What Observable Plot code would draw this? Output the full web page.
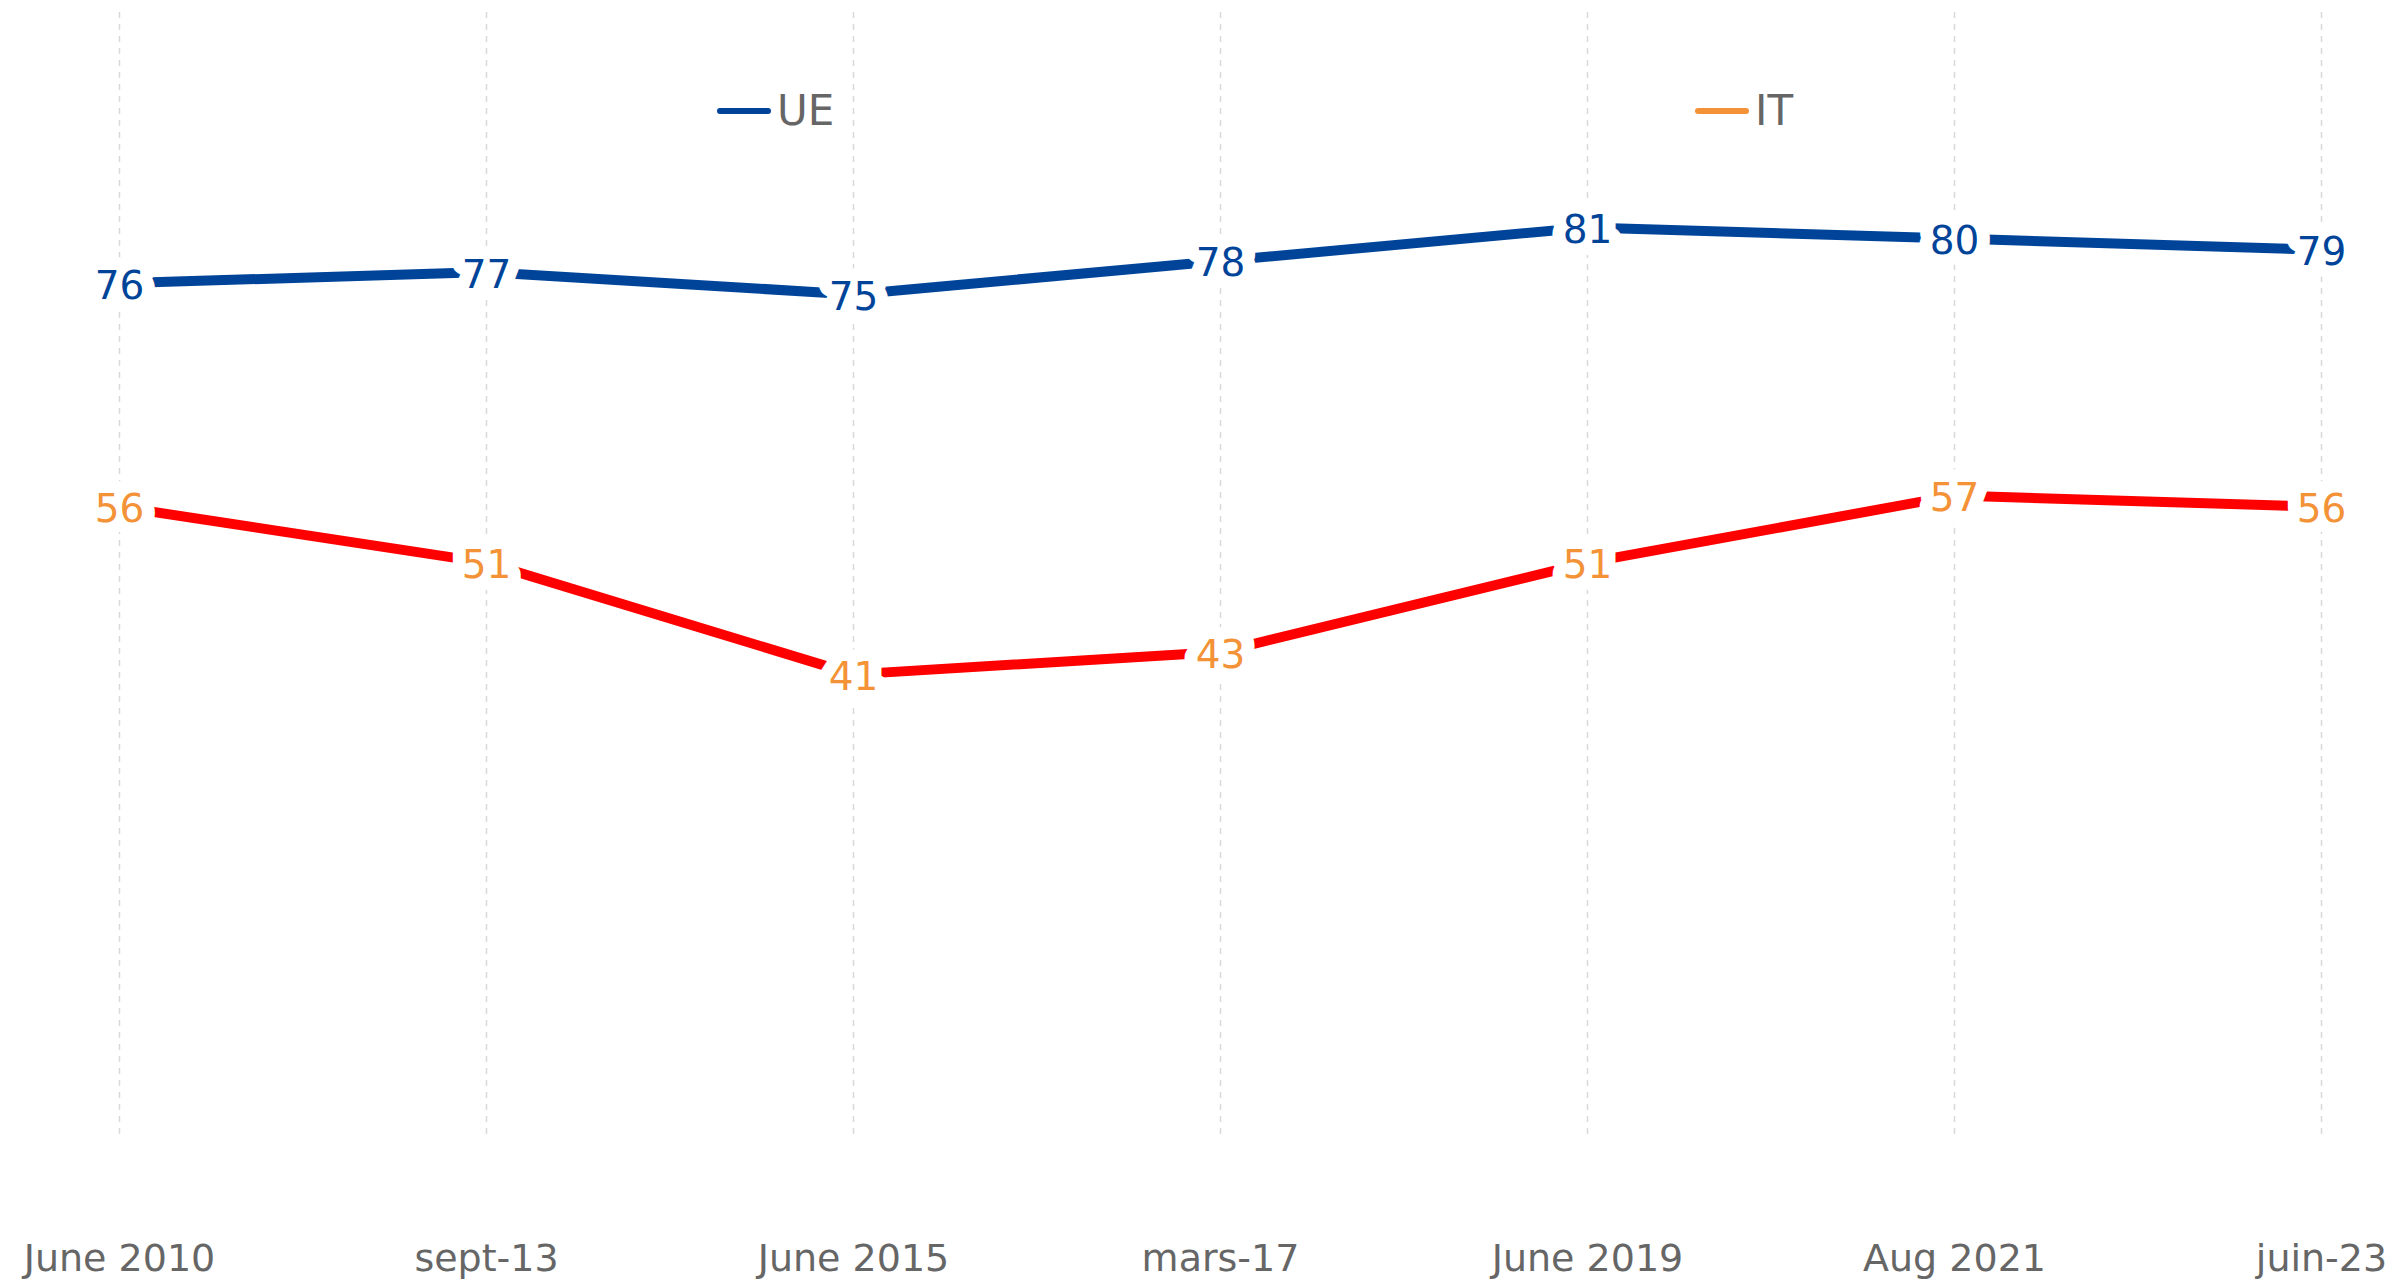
<!DOCTYPE html>
<html>
<head>
<meta charset="utf-8">
<script src="https://cdn.jsdelivr.net/npm/d3@7"></script>
<script src="https://cdn.jsdelivr.net/npm/@observablehq/plot@0.6"></script>
<style>
  html, body { margin: 0; padding: 0; background: #fff; }
  #wrap { position: relative; width: 2408px; height: 1280px; font-family: "DejaVu Sans", Verdana, sans-serif; }
  .leg { position: absolute; top: 86px; display: flex; align-items: center; font-size: 42px; color: #666; }
  .leg .sw { width: 54px; height: 6px; border-radius: 3px; margin-right: 6px; }
</style>
</head>
<body>
<div id="wrap"></div>
<script>
const categories = ["June 2010", "sept-13", "June 2015", "mars-17", "June 2019", "Aug 2021", "juin-23"];
const ueValues = [76, 77, 75, 78, 81, 80, 79];
const itValues = [56, 51, 41, 43, 51, 57, 56];
const seriesNames = ["UE", "IT"];
const lineColors = {UE: "#00449a", IT: "#ff0000"};
const labelColors = {UE: "#00449a", IT: "#f39237"};
const legendColors = {UE: "#00449a", IT: "#f39237"};

const data = [];
categories.forEach((c, i) => {
  data.push({date: c, series: "UE", value: ueValues[i]});
  data.push({date: c, series: "IT", value: itValues[i]});
});

const chart = Plot.plot({
  width: 2408,
  height: 1280,
  marginTop: 12,
  marginBottom: 140,
  marginLeft: 0,
  marginRight: 0,
  style: {fontFamily: "\"DejaVu Sans\", Verdana, sans-serif", color: "#666", background: "#fff"},
  x: {type: "point", domain: categories, range: [118, 2322], padding: 0, align: 0.5, label: null},
  y: {domain: [0, 100], range: [1132, 14.6], axis: null},
  marks: [
    Plot.gridX({stroke: "#d9d9d9", strokeOpacity: 1, strokeWidth: 1.5, strokeDasharray: "6,6"}),
    Plot.axisX({tickSize: 0, tickPadding: 104, fontSize: 38, fill: "#666", label: null}),
    ...seriesNames.map(s => Plot.line(data.filter(d => d.series === s), {
      x: "date", y: "value", stroke: lineColors[s], strokeWidth: 10, strokeLinecap: "butt"
    })),
    ...seriesNames.map(s => Plot.text(data.filter(d => d.series === s), {
      x: "date", y: "value", text: d => String(d.value), fill: labelColors[s],
      stroke: "white", strokeWidth: 26, fontSize: 39, dy: 3, textAnchor: "middle", lineAnchor: "middle"
    }))
  ]
});

const wrap = document.getElementById("wrap");
wrap.appendChild(chart);

const legendPos = {UE: 717, IT: 1695};
seriesNames.forEach(s => {
  const el = document.createElement("div");
  el.className = "leg";
  el.style.left = legendPos[s] + "px";
  el.innerHTML = `<span class="sw" style="background:${legendColors[s]}"></span><span>${s}</span>`;
  wrap.appendChild(el);
});
</script>
</body>
</html>
